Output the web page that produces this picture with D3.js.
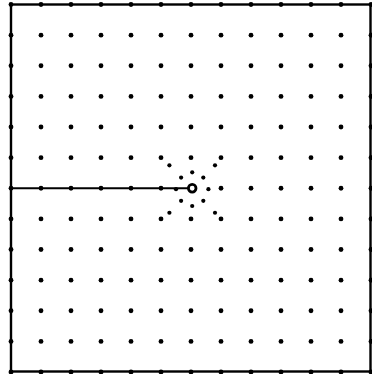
<!DOCTYPE html>
<html>
<head>
<meta charset="utf-8">
<script src="https://cdn.jsdelivr.net/npm/d3@7"></script>
<style>
  html, body { margin: 0; padding: 0; background: #fff; }
  svg { display: block; }
</style>
</head>
<body>
<svg id="chart" width="372" height="374"></svg>
<script>
// Grid indices (columns and rows of the dot lattice)
const colIndex = [0, 1, 2, 3, 4, 5, 6, 7, 8, 9, 10, 11, 12];
const rowIndex = [0, 1, 2, 3, 4, 5, 6, 7, 8, 9, 10, 11, 12];
// Centre (open circle) in grid units
const centerPoint = [6.04, 6.0];
// Horizontal ray from the left edge to the centre
const rayPoints = [[0, 6.0], [6.04, 6.0]];
// Inner ring of small dots around the centre
const innerRing = [
  [5.67, 5.65], [6.04, 5.48], [6.41, 5.65], [6.58, 6.03],
  [6.41, 6.41], [6.04, 6.58], [5.67, 6.41], [5.5, 6.03]
];
// Diagonal dots between inner ring and lattice
const diagRing = [[5.28, 5.25], [6.8, 5.25], [5.28, 6.8], [6.8, 6.8]];

const svg = d3.select("#chart");
const x = d3.scaleLinear().domain([0, 12]).range([11, 371]);
const y = d3.scaleLinear().domain([0, 12]).range([4.5, 372]);

// frame
svg.append("rect")
  .attr("x", x(0)).attr("y", y(0))
  .attr("width", 370.5 - x(0)).attr("height", 371.5 - y(0))
  .attr("fill", "none").attr("stroke", "#000").attr("stroke-width", 2.4);

// lattice dots (skip the centre where the open circle sits)
const lattice = [];
rowIndex.forEach(r => colIndex.forEach(c => {
  if (!(r === 6 && c === 6)) lattice.push([c, r]);
}));
svg.append("g").selectAll("circle").data(lattice).join("circle")
  .attr("cx", d => x(d[0])).attr("cy", d => y(d[1]))
  .attr("r", 2.4).attr("fill", "#000");

// ray
svg.append("path")
  .attr("d", d3.line().x(d => x(d[0])).y(d => y(d[1]))(rayPoints))
  .attr("stroke", "#000").attr("stroke-width", 2.2).attr("fill", "none");

// rings
svg.append("g").selectAll("circle").data(innerRing.concat(diagRing)).join("circle")
  .attr("cx", d => x(d[0])).attr("cy", d => y(d[1]))
  .attr("r", 2.1).attr("fill", "#000");

// centre open circle
svg.append("circle")
  .attr("cx", x(centerPoint[0])).attr("cy", y(centerPoint[1]))
  .attr("r", 3.8).attr("fill", "#fff")
  .attr("stroke", "#000").attr("stroke-width", 2.8);
</script>
</body>
</html>
